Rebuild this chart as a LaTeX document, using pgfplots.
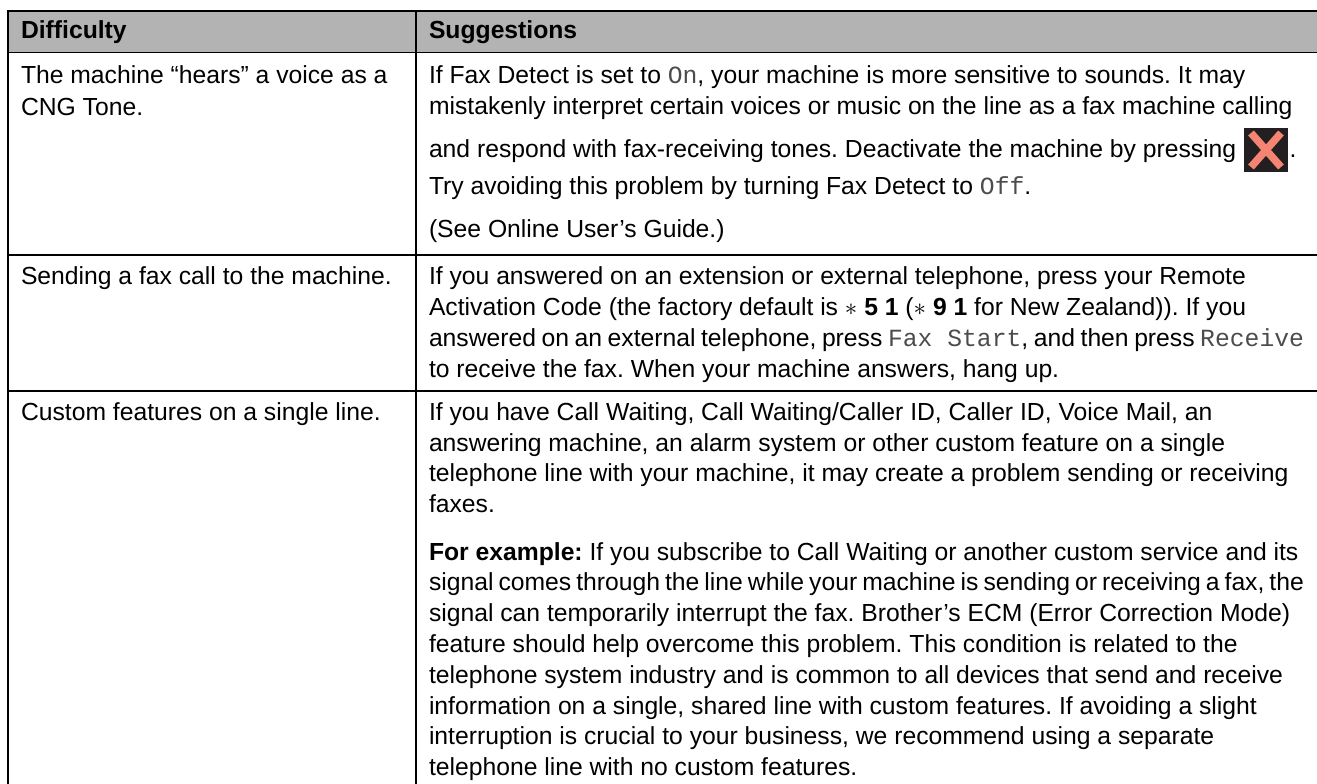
\documentclass[border=0pt]{standalone}
\usepackage{pgfplots}
\pgfplotsset{compat=1.18}
\usepackage{fontspec}
\setmainfont{Liberation Sans}
\setmonofont{Liberation Mono}
\definecolor{hdr}{HTML}{B3B3B3}
\definecolor{xbg}{HTML}{231F20}
\definecolor{xfg}{HTML}{F58473}
\frenchspacing
\newcommand{\m}[1]{{\spaceskip=0pt\ttfamily\color{black!70}#1}}
\newcommand{\Ln}[3]{\node[anchor=base west,inner sep=0pt,outer sep=0pt,font=\fontsize{24.7}{28}\selectfont] at (axis cs:#1,#2) {#3};}
\newcommand{\Lw}[4]{\node[anchor=base west,inner sep=0pt,outer sep=0pt,font=\fontsize{24.7}{28}\selectfont] at (axis cs:#1,#2) {\spaceskip=0.278em plus 1em minus 0.2em\makebox[#3pt][s]{#4}};}
\begin{document}
\begin{tikzpicture}
\useasboundingbox (0,0) rectangle (1317pt,784pt);
\begin{axis}[
  scale only axis, width=1317pt, height=784pt,
  at={(0,0)}, anchor=south west,
  xmin=0, xmax=1317, ymin=0, ymax=784, y dir=reverse,
  hide axis, clip=false]
% header band
\addplot[draw=none, fill=hdr, forget plot] coordinates {(8,11) (1317,11) (1317,52) (8,52)} -- cycle;
% rules
\addplot[black, line width=1.8pt, forget plot] coordinates {(7,11) (1317,11)};
\addplot[black, line width=1.8pt, forget plot] coordinates {(7,52.5) (1317,52.5)};
\addplot[black, line width=1.8pt, forget plot] coordinates {(7,255) (1317,255)};
\addplot[black, line width=1.8pt, forget plot] coordinates {(7,391) (1317,391)};
\addplot[black, line width=1.8pt, forget plot] coordinates {(8,10) (8,784)};
\addplot[black, line width=1.8pt, forget plot] coordinates {(416,10) (416,784)};
% cancel icon
\addplot[draw=none, fill=xbg, forget plot] coordinates {(1244,128) (1288,128) (1288,172) (1244,172)} -- cycle;
\addplot[xfg, line width=7.5pt, forget plot] coordinates {(1251,133) (1281,167)};
\addplot[xfg, line width=7.5pt, forget plot] coordinates {(1281,133) (1251,167)};
% left column
\Ln{21}{38.3}{\textbf{Difficulty}}
\Ln{21}{83}{The machine “hears” a voice as a}
\Ln{21}{115}{CNG Tone.}
\Ln{21}{284}{Sending a fax call to the machine.}
\Ln{21}{420.4}{Custom features on a single line.}
% right column
\Ln{429}{38.3}{\textbf{Suggestions}}
\Ln{429}{83}{If Fax Detect is set to \m{On}, your machine is more sensitive to sounds. It may}
\Ln{429}{114}{mistakenly interpret certain voices or music on the line as a fax machine calling}
\Ln{429}{157}{and respond with fax-receiving tones. Deactivate the machine by pressing}
\Ln{1289.5}{157}{.}
\Ln{429}{194}{Try avoiding this problem by turning Fax Detect to \m{Off}.}
\Ln{429}{237.5}{(See Online User’s Guide.)}
\Ln{429}{284}{If you answered on an extension or external telephone, press your Remote}
\Ln{429}{315}{Activation Code (the factory default is $\ast$ \textbf{5 1} ($\ast$ \textbf{9 1} for New Zealand)). If you}
\Lw{429}{346.5}{875}{answered on an external telephone, press \m{Fax Start}, and then press \m{Receive}}
\Ln{429}{377}{to receive the fax. When your machine answers, hang up.}
\Ln{429}{420.4}{If you have Call Waiting, Call Waiting/Caller ID, Caller ID, Voice Mail, an}
\Ln{429}{451}{answering machine, an alarm system or other custom feature on a single}
\Ln{429}{481.8}{telephone line with your machine, it may create a problem sending or receiving}
\Ln{429}{512.7}{faxes.}
\Ln{429}{560}{\textbf{For example:} If you subscribe to Call Waiting or another custom service and its}
\Lw{429}{590.8}{875}{signal comes through the line while your machine is sending or receiving a fax, the}
\Ln{429}{621}{signal can temporarily interrupt the fax. Brother\symbol{39}s ECM (Error Correction Mode)}
\Ln{429}{652}{feature should help overcome this problem. This condition is related to the}
\Ln{429}{683}{telephone system industry and is common to all devices that send and receive}
\Ln{429}{714}{information on a single, shared line with custom features. If avoiding a slight}
\Ln{429}{744.7}{interruption is crucial to your business, we recommend using a separate}
\Ln{429}{775.5}{telephone line with no custom features.}
\end{axis}
\end{tikzpicture}
\end{document}
